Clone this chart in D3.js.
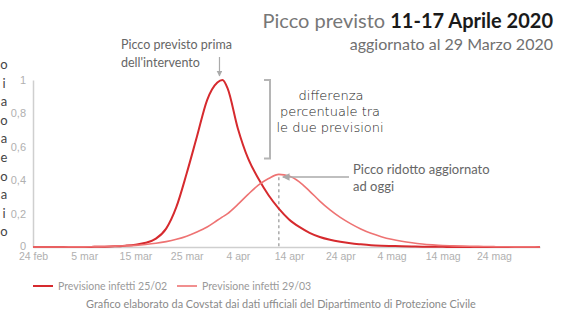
<!DOCTYPE html>
<html>
<head>
<meta charset="utf-8">
<script src="https://cdn.jsdelivr.net/npm/d3@7"></script>
<style>
  body { margin: 0; background: #fff; }
  svg { display: block; font-family: Lato, "Open Sans", sans-serif; }
</style>
</head>
<body>
<div id="chart"></div>
<script>
// Data
const dates = [
  "2020-02-24", "2020-02-26", "2020-02-28", "2020-03-01", "2020-03-03", "2020-03-05",
  "2020-03-07", "2020-03-09", "2020-03-11", "2020-03-13", "2020-03-15", "2020-03-17",
  "2020-03-19", "2020-03-21", "2020-03-23", "2020-03-25", "2020-03-27", "2020-03-29",
  "2020-03-31", "2020-04-01", "2020-04-02", "2020-04-04", "2020-04-06", "2020-04-08",
  "2020-04-10", "2020-04-12", "2020-04-14", "2020-04-16", "2020-04-18", "2020-04-20",
  "2020-04-22", "2020-04-24", "2020-04-26", "2020-04-28", "2020-04-30", "2020-05-02",
  "2020-05-04", "2020-05-06", "2020-05-08", "2020-05-10", "2020-05-12", "2020-05-14",
  "2020-05-16", "2020-05-18", "2020-05-20", "2020-05-22", "2020-05-24", "2020-05-26",
  "2020-05-28", "2020-05-30", "2020-06-01", "2020-06-02"
]
const infetti2502 = [
  0, 0, 0, 0, 0, 0,
  0.001, 0.002, 0.004, 0.008, 0.014, 0.025,
  0.05, 0.11, 0.24, 0.44, 0.66, 0.88,
  0.985, 1.0, 0.95, 0.71, 0.53, 0.41,
  0.31, 0.23, 0.165, 0.12, 0.085, 0.06,
  0.043, 0.031, 0.022, 0.016, 0.011, 0.008,
  0.006, 0.004, 0.003, 0.002, 0.0015, 0.001,
  0, 0, 0, 0, 0, 0,
  0, 0, 0, 0
]
const infetti2903 = [
  0, 0, 0, 0, 0.001, 0.001,
  0.002, 0.003, 0.005, 0.007, 0.01, 0.015,
  0.022, 0.032, 0.046, 0.065, 0.09, 0.12,
  0.16, 0.18, 0.2, 0.255, 0.315, 0.37,
  0.41, 0.435, 0.425, 0.39, 0.335, 0.275,
  0.222, 0.177, 0.14, 0.108, 0.082, 0.062,
  0.046, 0.034, 0.025, 0.018, 0.013, 0.009,
  0.007, 0.005, 0.004, 0.003, 0.002, 0.0015,
  0.001, 0.001, 0.0005, 0
]
const xTicks = ["2020-02-24", "2020-03-05", "2020-03-15", "2020-03-25", "2020-04-04",
  "2020-04-14", "2020-04-24", "2020-05-04", "2020-05-14", "2020-05-24"]
const yTicks = [0, 0.2, 0.4, 0.6, 0.8, 1]
const mesi = ["gen", "feb", "mar", "apr", "mag", "giu", "lug", "ago", "set", "ott", "nov", "dic"]
const legendLabels = ["Previsione infetti 25/02", "Previsione infetti 29/03"]
const sideLetters = ["o", "i", "a", "o", "a", "e", "o", "a", "i", "o"]

// Dimensions
const width = 580
const height = 319
const margin = { top: 80, right: 40, bottom: 72, left: 33 }

const parse = d3.timeParse("%Y-%m-%d")
const it = d3.formatLocale({ decimal: ",", thousands: ".", grouping: [3], currency: ["", "€"] })

const svg = d3.select("#chart")
  .append("svg")
  .attr("width", width)
  .attr("height", height)

const x = d3.scaleTime()
  .domain([parse("2020-02-24"), parse("2020-06-02")])
  .range([margin.left, width - margin.right])

const y = d3.scaleLinear()
  .domain([0, 1])
  .range([height - margin.bottom, margin.top])

// Axes
const xAxis = svg.append("g")
  .attr("transform", `translate(0,${y(0)})`)
  .call(d3.axisBottom(x)
    .tickValues(xTicks.map(parse))
    .tickSize(0)
    .tickPadding(6)
    .tickFormat(d => `${d.getDate()} ${mesi[d.getMonth()]}`))
xAxis.select(".domain").attr("stroke", "#cfcfcf").attr("stroke-width", 1.5)
xAxis.selectAll("text").attr("fill", "#b0b0b0").attr("font-size", 10.5)

const yAxis = svg.append("g")
  .attr("transform", `translate(${margin.left},0)`)
  .call(d3.axisLeft(y)
    .tickValues(yTicks)
    .tickSize(0)
    .tickPadding(7)
    .tickFormat(d => it.format("~g")(d)))
yAxis.select(".domain").attr("stroke", "#cfcfcf").attr("stroke-width", 1.5)
yAxis.selectAll("text").attr("fill", "#b0b0b0").attr("font-size", 11)
yAxis.selectAll(".tick").filter(d => d === 0).select("text").attr("dy", "0.2em")

// clipped side label
svg.append("g")
  .selectAll("text")
  .data(sideLetters)
  .join("text")
  .attr("x", 4)
  .attr("y", (d, i) => 69 + i * 18.6)
  .attr("text-anchor", "middle")
  .attr("fill", "#444")
  .attr("font-size", 13)
  .text(d => d)

// Lines
const line = d3.line()
  .x(d => x(parse(d[0])))
  .y(d => y(d[1]))
  .curve(d3.curveMonotoneX)

const series = [
  { values: infetti2502, color: "#d62a2e", width: 2 },
  { values: infetti2903, color: "#ee7373", width: 1.6 }
]

// dashed line under updated peak
const peakIdx = d3.maxIndex(infetti2903)
svg.append("line")
  .attr("x1", x(parse(dates[peakIdx]))).attr("x2", x(parse(dates[peakIdx])))
  .attr("y1", y(infetti2903[peakIdx]) + 3).attr("y2", y(0))
  .attr("stroke", "#aaa")
  .attr("stroke-width", 1.5)
  .attr("stroke-dasharray", "3,3")

svg.append("g")
  .selectAll("path")
  .data(series)
  .join("path")
  .attr("fill", "none")
  .attr("stroke", d => d.color)
  .attr("stroke-width", d => d.width)
  .attr("d", d => line(dates.map((t, i) => [t, d.values[i]])))

// Title
const title = svg.append("text")
  .attr("x", 553)
  .attr("y", 28)
  .attr("text-anchor", "end")
  .attr("font-size", 20)
title.append("tspan").attr("fill", "#777").text("Picco previsto  ")
title.append("tspan").attr("fill", "#1a1a1a").attr("font-weight", "bold").text("11-17 Aprile 2020")

svg.append("text")
  .attr("x", 553)
  .attr("y", 50)
  .attr("text-anchor", "end")
  .attr("font-size", 16)
  .attr("fill", "#707070")
  .text("aggiornato al 29 Marzo 2020")

// Annotations
const defs = svg.append("defs")
defs.append("marker")
  .attr("id", "arrow")
  .attr("viewBox", "0 0 10 10")
  .attr("refX", 9).attr("refY", 5)
  .attr("markerWidth", 5).attr("markerHeight", 5)
  .attr("orient", "auto")
  .append("path")
  .attr("d", "M0,0L10,5L0,10z")
  .attr("fill", "#aaa")

const ann1 = svg.append("text")
  .attr("font-size", 12.5)
  .attr("fill", "#666")
ann1.append("tspan").attr("x", 121).attr("y", 49).text("Picco previsto prima")
ann1.append("tspan").attr("x", 121).attr("y", 67).text("dell'intervento")

const peak1 = d3.maxIndex(infetti2502)
svg.append("line")
  .attr("x1", x(parse(dates[peak1])) - 3).attr("x2", x(parse(dates[peak1])) - 3)
  .attr("y1", 57).attr("y2", y(1) - 4)
  .attr("stroke", "#aaa").attr("stroke-width", 1.2)
  .attr("marker-end", "url(#arrow)")

// bracket
svg.append("path")
  .attr("d", `M264,${y(1)}H270V${y(0.53)}H264`)
  .attr("fill", "none")
  .attr("stroke", "#b5b5b5")
  .attr("stroke-width", 2)

const hand = svg.append("text")
  .attr("text-anchor", "middle")
  .attr("font-family", "DejaVu Sans, sans-serif")
  .attr("font-weight", 300)
  .attr("font-size", 13)
  .attr("fill", "#222")
hand.append("tspan").attr("x", 331).attr("y", 100).text("differenza")
hand.append("tspan").attr("x", 330).attr("y", 116).text("percentuale tra")
hand.append("tspan").attr("x", 330).attr("y", 132).text("le due previsioni")

const ann2 = svg.append("text")
  .attr("font-size", 13)
  .attr("fill", "#666")
ann2.append("tspan").attr("x", 353).attr("y", 174).text("Picco ridotto aggiornato")
ann2.append("tspan").attr("x", 353).attr("y", 191).text("ad oggi")

svg.append("line")
  .attr("x1", 349).attr("x2", x(parse(dates[peakIdx])) + 4)
  .attr("y1", 177).attr("y2", 177)
  .attr("stroke", "#aaa").attr("stroke-width", 1.5)
  .attr("marker-end", "url(#arrow)")

// Legend
const legend = svg.append("g")
  .selectAll("g")
  .data(series)
  .join("g")
  .attr("transform", (d, i) => `translate(${33 + i * 144},286)`)
legend.append("line")
  .attr("x1", 0).attr("x2", 20)
  .attr("stroke", d => d.color)
  .attr("stroke-width", d => d.width)
legend.append("text")
  .attr("x", 25)
  .attr("dy", "0.35em")
  .attr("font-size", 10.5)
  .attr("fill", "#9a9a9a")
  .text((d, i) => legendLabels[i])

svg.append("text")
  .attr("x", 281)
  .attr("y", 308)
  .attr("text-anchor", "middle")
  .attr("font-size", 10.9)
  .attr("fill", "#8a8a8a")
  .text("Grafico elaborato  da Covstat dai dati ufficiali del Dipartimento di Protezione Civile")
</script>
</body>
</html>
